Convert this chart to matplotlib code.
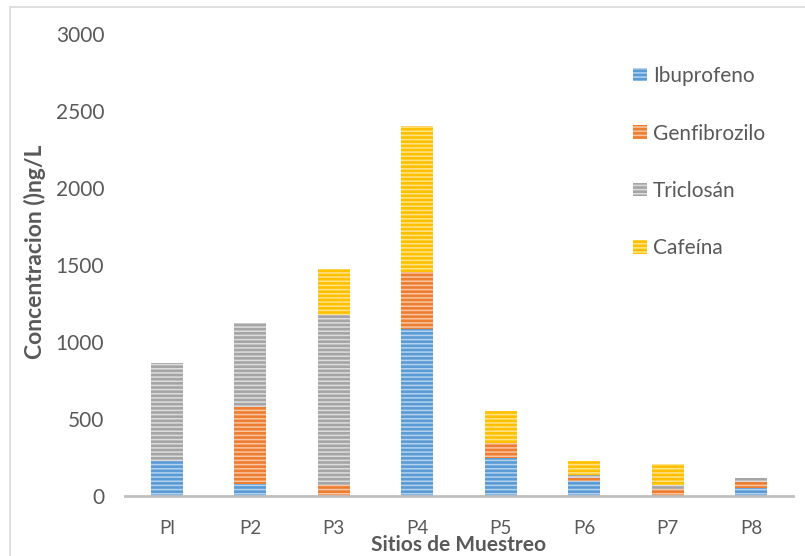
import matplotlib
matplotlib.use("Agg")
import matplotlib.pyplot as plt
from matplotlib.patches import Rectangle
import numpy as np

sites = ["Pl", "P2", "P3", "P4", "P5", "P6", "P7", "P8"]
ibuprofeno = [225, 75, 0, 1085, 245, 100, 0, 55]
genfibrozilo = [0, 505, 70, 370, 100, 15, 45, 35]
triclosan = [640, 545, 1105, 0, 0, 20, 25, 30]
cafeina = [0, 0, 300, 950, 205, 90, 140, 0]

series = [
    ("Ibuprofeno", ibuprofeno, "#5B9BD5", "#B4D2EE"),
    ("Genfibrozilo", genfibrozilo, "#ED7D31", "#F8C6A3"),
    ("Triclosán", triclosan, "#A5A5A5", "#DDDDDD"),
    ("Cafeína", cafeina, "#FFC000", "#FFE38A"),
]

plt.rcParams["font.family"] = ["Lato", "DejaVu Sans"]
plt.rcParams["hatch.linewidth"] = 1.1

W, H = 805, 556
fig = plt.figure(figsize=(W / 100, H / 100), dpi=100)
ax = fig.add_axes([125 / W, 1 - 496 / H, (793 - 125) / W, (496 - 34) / H])

x = np.arange(len(sites))
bottom = np.zeros(len(sites))
handles = []
for name, vals, color, light in series:
    vals = np.array(vals, dtype=float)
    bars = ax.bar(x, vals, width=0.38, bottom=bottom, color=color,
                  edgecolor=light, hatch="----", linewidth=0, label=name)
    handles.append(bars)
    bottom += vals

ax.set_xlim(-0.5, len(sites) - 0.5)
ax.set_ylim(0, 3000)
ax.set_yticks(np.arange(0, 3001, 500))
ax.set_xticks(x)
ax.set_xticklabels(sites)

for s in ["top", "right", "left"]:
    ax.spines[s].set_visible(False)
ax.spines["bottom"].set_color("#BFBFBF")
ax.spines["bottom"].set_linewidth(2)
ax.tick_params(axis="both", length=0, colors="#595959")
ax.tick_params(axis="y", labelsize=15, pad=15)
ax.tick_params(axis="x", labelsize=13.5, pad=17)

ax.set_ylabel("Concentracion ()ng/L", fontsize=16.5, fontweight="bold",
              color="#595959")
ax.yaxis.set_label_coords(-(125 - 35) / 668, (496 - 252) / 462)
ax.yaxis.label.set_va("center")
ax.set_xlabel("Sitios de Muestreo", fontsize=15, fontweight="bold",
              color="#595959")
ax.xaxis.set_label_coords(0.499, -(545 - 496) / 462)
ax.xaxis.label.set_va("center")

leg = ax.legend(handles=handles, loc="upper left",
                bbox_to_anchor=((633 - 125) / 668, (496 - 66) / 462),
                frameon=False, fontsize=15, labelspacing=1.8,
                borderpad=0, borderaxespad=0,
                handlelength=0.67, handleheight=0.63, handletextpad=0.3,
                labelcolor="#595959")

# Outer chart border
fig.patches.append(Rectangle((10 / W, -0.05), 1.0, 1 - 7 / H + 0.05,
                             transform=fig.transFigure, fill=False,
                             edgecolor="#D9D9D9", linewidth=1.2))

fig.savefig("out.png", dpi=100)
